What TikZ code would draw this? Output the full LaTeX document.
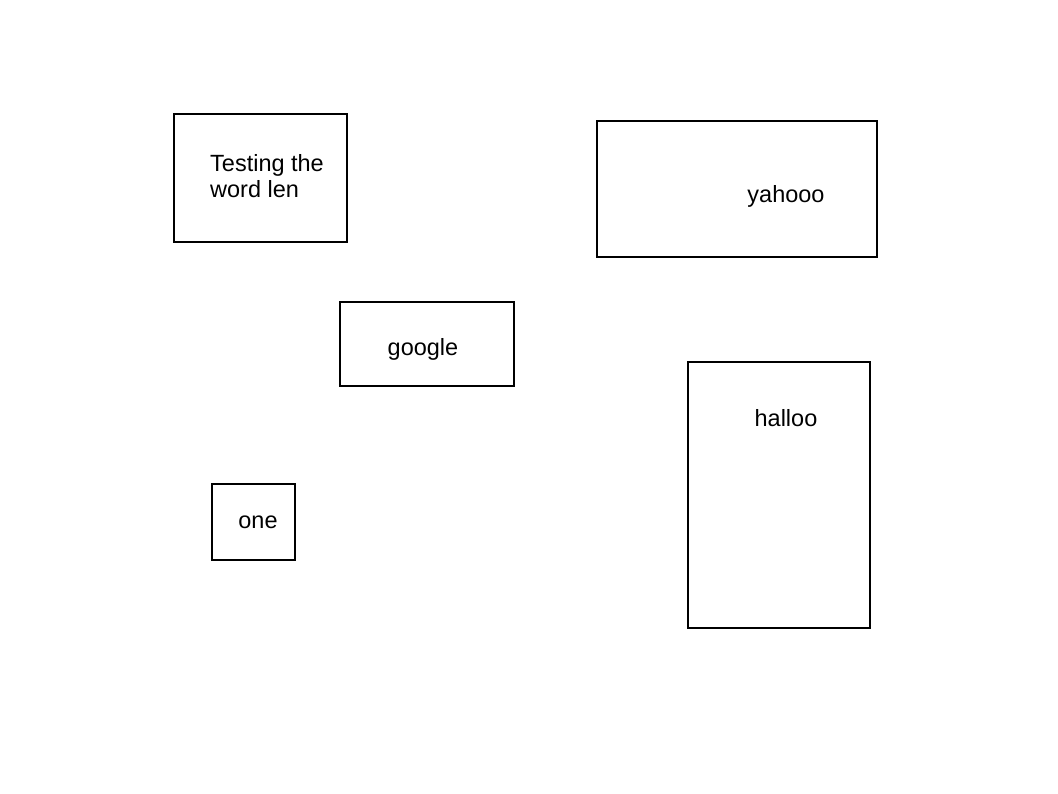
\documentclass[tikz,border=0pt]{standalone}
\usepackage{fontspec}
\setmainfont{Liberation Sans}
\usepackage{tikz}

\begin{document}
\begin{tikzpicture}[x=0.025cm, y=-0.025cm, box/.style={draw, rectangle, line width=0.8pt, inner sep=0pt}, lbl/.style={font=\fontsize{16.7}{19}\selectfont, inner sep=0pt}]
            \useasboundingbox (0,0) rectangle (1058,794);
            % boxes
            \node[box, minimum width=173*0.025cm, minimum height=128*0.025cm] (testbox) at (260.5,178) {};
            \node[box, minimum width=280*0.025cm, minimum height=136*0.025cm] (yahoobox) at (737,189) {};
            \node[box, minimum width=174*0.025cm, minimum height=84*0.025cm] (googlebox) at (427,344) {};
            \node[box, minimum width=182*0.025cm, minimum height=266*0.025cm] (hallobox) at (779,495) {};
            \node[box, minimum width=83*0.025cm, minimum height=76*0.025cm] (onebox) at (253.5,522) {};
            % labels
            \node[lbl, align=left] (test) at (267,176) {Testing the\\word len};
            \node[lbl] (yahoo) at (786,196) {yahooo};
            \node[lbl] (google) at (423,349) {google};
            \node[lbl] (hallo) at (786,418) {halloo};
            \node[lbl] (one) at (258,522) {one};
        \end{tikzpicture}
\end{document}
